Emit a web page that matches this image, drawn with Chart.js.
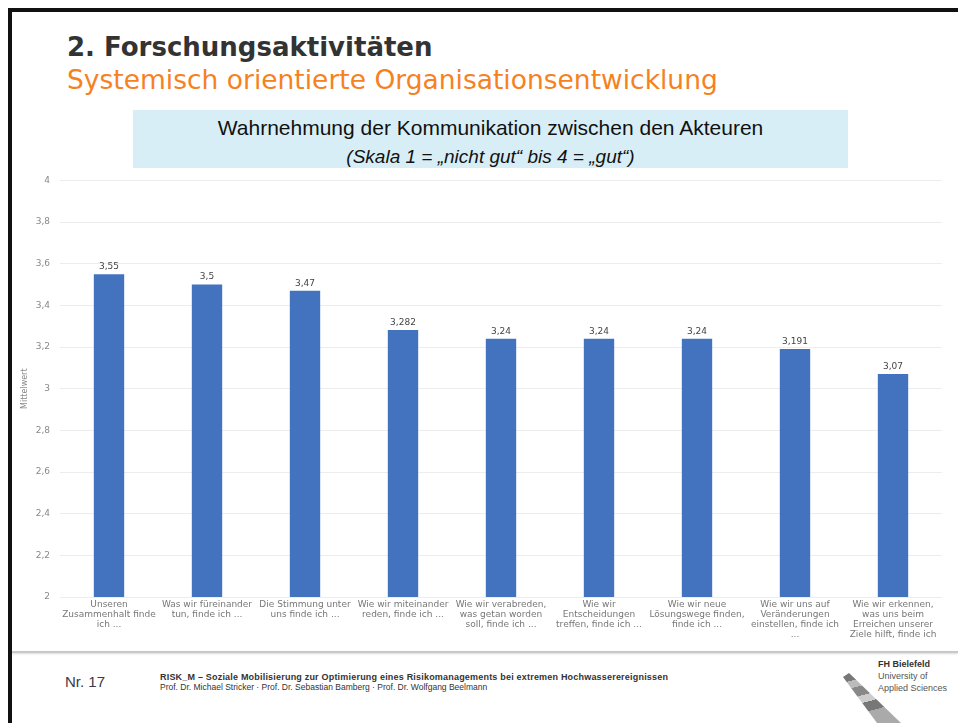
<!DOCTYPE html>
<html>
<head>
<meta charset="utf-8">
<script src="https://cdn.jsdelivr.net/npm/chart.js@4.4.0/dist/chart.umd.min.js"></script>
<style>
  html, body { margin:0; padding:0; background:#fff; }
  body { width:958px; height:723px; position:relative; overflow:hidden; font-family:"DejaVu Sans", sans-serif; }
  #frame { position:absolute; left:8px; top:8px; width:960px; height:730px; border-left:4px solid #111; border-top:4px solid #111; box-sizing:border-box; }
  #h1 { position:absolute; left:67px; top:32px; font:bold 26px "DejaVu Sans", sans-serif; color:#333; white-space:nowrap; }
  #h2 { position:absolute; left:67px; top:64px; font:26.5px "DejaVu Sans", sans-serif; color:#F5821F; white-space:nowrap; }
  #box { position:absolute; left:133px; top:110px; width:715px; height:58px; background:#d8eef6; }
  #t1 { position:absolute; left:133px; width:715px; top:116px; text-align:center; font:21px "Liberation Sans", sans-serif; color:#111; }
  #t2 { position:absolute; left:133px; width:715px; top:146px; text-align:center; font:italic 19px "Liberation Sans", sans-serif; color:#111; }
  #wrap { position:absolute; left:0; top:165px; width:958px; height:485px; }
  #sep { position:absolute; left:12px; top:651px; width:946px; height:2px; background:#c8c8c8; box-shadow:0 1px 2px rgba(0,0,0,0.15); }
  #nr { position:absolute; left:65px; top:673px; font:15px "Liberation Sans", sans-serif; color:#3a3a4a; }
  #f1 { position:absolute; left:160px; top:672px; font:bold 9px "Liberation Sans", sans-serif; letter-spacing:0.2px; color:#333; white-space:nowrap; }
  #f2 { position:absolute; left:160px; top:682px; font:8.5px "Liberation Sans", sans-serif; color:#333; white-space:nowrap; }
  #fh { position:absolute; left:878px; top:658px; font:9px "Liberation Sans", sans-serif; color:#555; line-height:12px; }
  #fh b { color:#333; }
  #logo { position:absolute; left:835px; top:665px; }
</style>
</head>
<body>
<div id="frame"></div>
<div id="h1">2. Forschungsaktivitäten</div>
<div id="h2">Systemisch orientierte Organisationsentwicklung</div>
<div id="box"></div>
<div id="t1">Wahrnehmung der Kommunikation zwischen den Akteuren</div>
<div id="t2">(Skala 1 = „nicht gut“ bis 4 = „gut“)</div>
<div id="wrap"><canvas id="c"></canvas></div>
<div id="sep"></div>
<div id="nr">Nr. 17</div>
<div id="f1">RISK_M – Soziale Mobilisierung zur Optimierung eines Risikomanagements bei extremen Hochwasserereignissen</div>
<div id="f2">Prof. Dr. Michael Stricker · Prof. Dr. Sebastian Bamberg · Prof. Dr. Wolfgang Beelmann</div>
<div id="fh"><b>FH Bielefeld</b><br>University of<br>Applied Sciences</div>
<svg id="logo" width="80" height="60" viewBox="0 0 80 60">
  <defs>
    <linearGradient id="st" x1="0" y1="0" x2="0.3" y2="1">
      <stop offset="0" stop-color="#777"/><stop offset="0.18" stop-color="#777"/>
      <stop offset="0.18" stop-color="#bbb"/><stop offset="0.32" stop-color="#bbb"/>
      <stop offset="0.32" stop-color="#888"/><stop offset="0.5" stop-color="#888"/>
      <stop offset="0.5" stop-color="#ccc"/><stop offset="0.64" stop-color="#ccc"/>
      <stop offset="0.64" stop-color="#777"/><stop offset="0.82" stop-color="#777"/>
      <stop offset="0.82" stop-color="#aaa"/><stop offset="1" stop-color="#aaa"/>
    </linearGradient>
  </defs>
  <polygon points="8,12 14,8 66,58 42,58" fill="url(#st)"/>
</svg>
<script>
const categories = [
  ["Unseren", "Zusammenhalt finde", "ich ..."],
  ["Was wir füreinander", "tun, finde ich ..."],
  ["Die Stimmung unter", "uns finde ich ..."],
  ["Wie wir miteinander", "reden, finde ich ..."],
  ["Wie wir verabreden,", "was getan worden", "soll, finde ich ..."],
  ["Wie wir", "Entscheidungen", "treffen, finde ich ..."],
  ["Wie wir neue", "Lösungswege finden,", "finde ich ..."],
  ["Wie wir uns auf", "Veränderungen", "einstellen, finde ich", "..."],
  ["Wie wir erkennen,", "was uns beim", "Erreichen unserer", "Ziele hilft, finde ich"]
];
const values = [3.55, 3.5, 3.47, 3.282, 3.24, 3.24, 3.24, 3.191, 3.07];
const valueLabels = ["3,55", "3,5", "3,47", "3,282", "3,24", "3,24", "3,24", "3,191", "3,07"];
const yTicks = [2, 2.2, 2.4, 2.6, 2.8, 3, 3.2, 3.4, 3.6, 3.8, 4];
const yTickLabels = ["2", "2,2", "2,4", "2,6", "2,8", "3", "3,2", "3,4", "3,6", "3,8", "4"];

const labelPlugin = {
  id: 'vlabels',
  afterDatasetsDraw(chart) {
    const ctx = chart.ctx;
    const meta = chart.getDatasetMeta(0);
    ctx.save();
    ctx.font = '9px "DejaVu Sans", sans-serif';
    ctx.fillStyle = '#444';
    ctx.textAlign = 'center';
    ctx.textBaseline = 'bottom';
    meta.data.forEach((bar, i) => {
      ctx.fillText(valueLabels[i], bar.x, bar.y - 3);
    });
    ctx.restore();
  }
};

new Chart(document.getElementById('c'), {
  type: 'bar',
  data: {
    labels: categories,
    datasets: [{
      data: values,
      backgroundColor: '#4373BF',
      categoryPercentage: 1,
      barPercentage: 0.31
    }]
  },
  options: {
    responsive: true,
    maintainAspectRatio: false,
    animation: false,
    layout: { padding: { top: 5, right: 16, left: 20, bottom: 0 } },
    plugins: { legend: { display: false }, tooltip: { enabled: false }, title: { display: false } },
    scales: {
      x: {
        grid: { display: false, drawTicks: false },
        border: { display: false },
        ticks: {
          font: { size: 9, family: '"DejaVu Sans", sans-serif', lineHeight: 1.1 },
          color: '#777',
          maxRotation: 0, minRotation: 0, autoSkip: false, padding: 3
        },
        afterFit(s) { s.height = 53; }
      },
      y: {
        min: 2, max: 4,
        afterBuildTicks(s) { s.ticks = yTicks.map(v => ({ value: v })); },
        grid: { color: 'rgba(0,0,0,0.07)', drawTicks: false },
        border: { display: false },
        ticks: {
          callback: (v) => yTickLabels[yTicks.indexOf(v)] ?? '',
          font: { size: 9, family: '"DejaVu Sans", sans-serif' },
          color: '#888',
          padding: 10
        },
        title: {
          display: true, text: 'Mittelwert',
          font: { size: 8, family: '"DejaVu Sans", sans-serif' }, color: '#888', padding: 0
        },
        afterFit(s) { s.width = 40; }
      }
    }
  },
  plugins: [labelPlugin]
});
</script>
</body>
</html>
